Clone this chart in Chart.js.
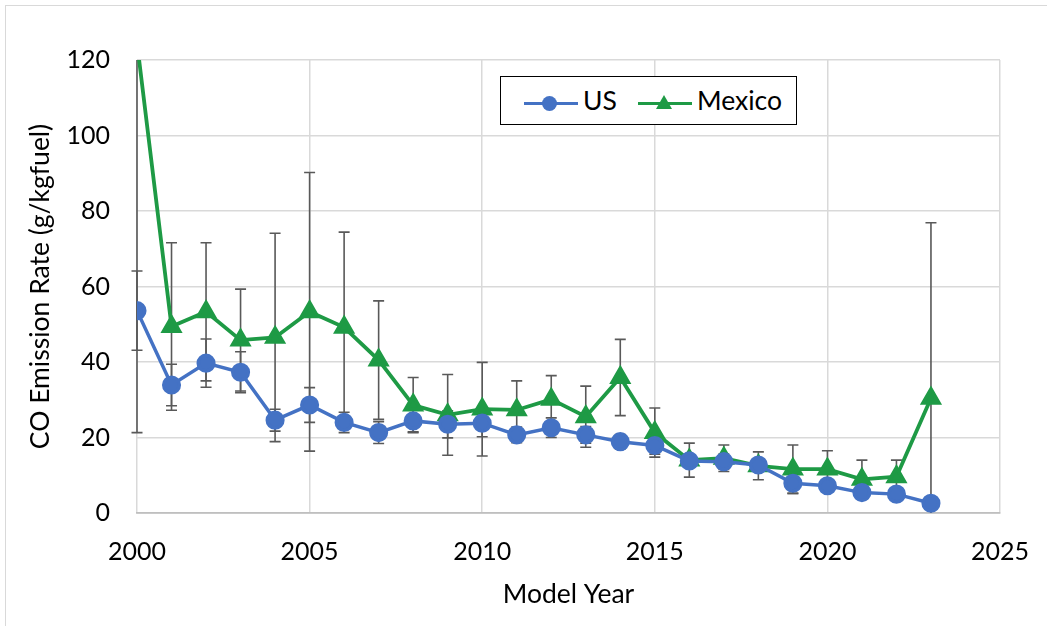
<!DOCTYPE html>
<html>
<head>
<meta charset="utf-8">
<script src="https://cdn.jsdelivr.net/npm/chart.js@4.4.0/dist/chart.umd.min.js"></script>
<style>
  body { margin: 0; background: #fff; overflow: hidden; }
  #wrap { position: relative; width: 1047px; height: 626px; overflow: hidden; font-family: Lato, "Open Sans", sans-serif; }
  #frame { position: absolute; left: 5px; top: 5px; width: 1060px; height: 640px; border: 1px solid #d9d9d9; }
  #chart { position: absolute; left: 0; top: 0; }
  #legend { position: absolute; left: 500px; top: 76px; width: 297px; height: 49px; box-sizing: border-box; border: 1.5px solid #000; background: #fff; }
  #legend .ln { position: absolute; height: 3.5px; width: 54px; top: 24.5px; }
  #legend .dot { position: absolute; width: 15px; height: 15px; border-radius: 50%; top: 18.8px; }
  #legend .tri { position: absolute; width: 0; height: 0; border-left: 8px solid transparent; border-right: 8px solid transparent; border-bottom: 14px solid; top: 18px; }
  #legend .lbl { position: absolute; top: 8px; font-size: 26.5px; line-height: 30px; color: #000; }
</style>
</head>
<body>
<div id="wrap">
  <div id="frame"></div>
  <canvas id="chart" width="1047" height="626"></canvas>
  <div id="legend"></div>
</div>
<script>
// данные графика
const seriesNames = ['US', 'Mexico'];
const seriesColors = ['#4472c4', '#1e9a45'];
const years = [2000, 2001, 2002, 2003, 2004, 2005, 2006, 2007, 2008, 2009, 2010, 2011,
               2012, 2013, 2014, 2015, 2016, 2017, 2018, 2019, 2020, 2021, 2022, 2023];
const usValues = [53.6, 33.9, 39.7, 37.3, 24.6, 28.6, 24.0, 21.3, 24.4, 23.5, 23.8, 20.7,
                  22.6, 20.7, 18.9, 17.9, 13.8, 13.6, 12.7, 7.9, 7.2, 5.4, 5.0, 2.6];
const usErrors = [10.5, 5.5, 6.4, 5.4, 2.9, 4.6, 2.7, 2.9, 2.9, 3.6, 3.6, 2.1,
                  2.6, 2.2, 1.9, 2.3, 1.5, 2.0, 1.5, 2.7, 1.0, 1.0, 1.0, 0];
const mexicoValues = [124.6, 49.4, 53.3, 45.8, 46.5, 53.3, 49.2, 40.5, 28.6, 26.0, 27.5, 27.3,
                      30.1, 25.5, 35.9, 21.3, 14.0, 14.5, 12.5, 11.6, 11.6, 8.9, 9.6, 30.4];
const mexicoErrors = [103.3, 22.2, 18.3, 13.5, 27.6, 36.9, 25.2, 15.7, 7.3, 10.7, 12.4, 7.7,
                      6.3, 8.1, 10.1, 6.5, 4.5, 3.5, 3.7, 6.4, 4.9, 5.1, 4.4, 46.5];
const xTicks = [2000, 2005, 2010, 2015, 2020, 2025];
const yTicks = [0, 20, 40, 60, 80, 100, 120];

function points(values){ // пары x/y для линейной оси
    return years.map((yr, i) => ({x: yr, y: values[i]}));
}

const errorBars = { // усы погрешностей, рисуются под линиями
    id: 'errorBars',
    beforeDatasetsDraw(chart){
        const {ctx, chartArea, scales: {x, y}} = chart;
        ctx.save();
        ctx.beginPath();
        ctx.rect(chartArea.left - 10, chartArea.top, chartArea.width + 20, chartArea.height);
        ctx.clip();
        ctx.strokeStyle = '#595959';
        ctx.lineWidth = 1.6;
        chart.data.datasets.forEach(ds => {
            ds.data.forEach((p, i) => {
                const e = ds.errors[i];
                if (!e) return;
                const px = x.getPixelForValue(p.x);
                const top = y.getPixelForValue(p.y + e);
                const bot = y.getPixelForValue(p.y - e);
                ctx.beginPath();
                ctx.moveTo(px, top); ctx.lineTo(px, bot);
                ctx.moveTo(px - 5.5, top); ctx.lineTo(px + 5.5, top);
                ctx.moveTo(px - 5.5, bot); ctx.lineTo(px + 5.5, bot);
                ctx.stroke();
            });
        });
        ctx.restore();
    }
};

const font = {family: 'Lato', size: 25};
const titleFont = {family: 'Lato', size: 26.5};

const config = {
    type: 'line',
    data: {
        datasets: [
            {label: seriesNames[0], data: points(usValues), errors: usErrors,
             borderColor: seriesColors[0], backgroundColor: seriesColors[0],
             borderWidth: 3.5, pointStyle: 'circle', pointRadius: 7.8, pointHoverRadius: 7.8},
            {label: seriesNames[1], data: points(mexicoValues), errors: mexicoErrors,
             borderColor: seriesColors[1], backgroundColor: seriesColors[1],
             borderWidth: 3.8, pointStyle: 'triangle', pointRadius: 9, pointHoverRadius: 9}
        ]
    },
    options: {
        responsive: false,
        animation: false,
        layout: {padding: {left: 0, top: 60, right: 47, bottom: 0}},
        plugins: {legend: {display: false}, tooltip: {enabled: false}},
        scales: {
            x: {
                type: 'linear', min: 2000, max: 2025,
                afterBuildTicks: s => { s.ticks = xTicks.map(v => ({value: v})); },
                afterFit: s => { s.height = 113; s.paddingLeft = 0; s.paddingRight = 0; },
                ticks: {font: font, color: '#000', padding: 24, callback: v => String(v)},
                grid: {color: '#d9d9d9', lineWidth: 1.5, drawTicks: false},
                border: {color: '#bfbfbf', width: 1.8},
                title: {display: true, text: 'Model Year', font: titleFont,
                        color: '#000', padding: {top: 0, bottom: 16}}
            },
            y: {
                min: 0, max: 120,
                afterBuildTicks: s => { s.ticks = yTicks.map(v => ({value: v})); },
                afterFit: s => { s.width = 137; },
                ticks: {font: font, color: '#000', padding: 27},
                grid: {color: '#d9d9d9', lineWidth: 1.5, drawTicks: false},
                border: {display: false},
                title: {display: true, text: 'CO Emission Rate (g/kgfuel)', font: titleFont,
                        color: '#000', padding: {top: 25, bottom: 0}}
            }
        }
    },
    plugins: [errorBars]
};

const COChart = new Chart(document.getElementById('chart'), config);

// легенда в рамке
const legend = document.getElementById('legend');
const keys = [{ln: 23, mk: 48, lbl: 82, shape: 'dot'}, {ln: 137, mk: 163, lbl: 196, shape: 'tri'}];
seriesNames.forEach((name, i) => {
    const k = keys[i];
    const ln = document.createElement('i'); ln.className = 'ln';
    ln.style.left = k.ln + 'px'; ln.style.background = seriesColors[i];
    const mk = document.createElement('i'); mk.className = k.shape;
    if (k.shape === 'dot') { mk.style.left = (k.mk - 7.5) + 'px'; mk.style.background = seriesColors[i]; }
    else { mk.style.left = (k.mk - 8) + 'px'; mk.style.borderBottomColor = seriesColors[i]; }
    const lbl = document.createElement('span'); lbl.className = 'lbl';
    lbl.style.left = k.lbl + 'px'; lbl.textContent = name;
    legend.append(ln, mk, lbl);
});
</script>
</body>
</html>
